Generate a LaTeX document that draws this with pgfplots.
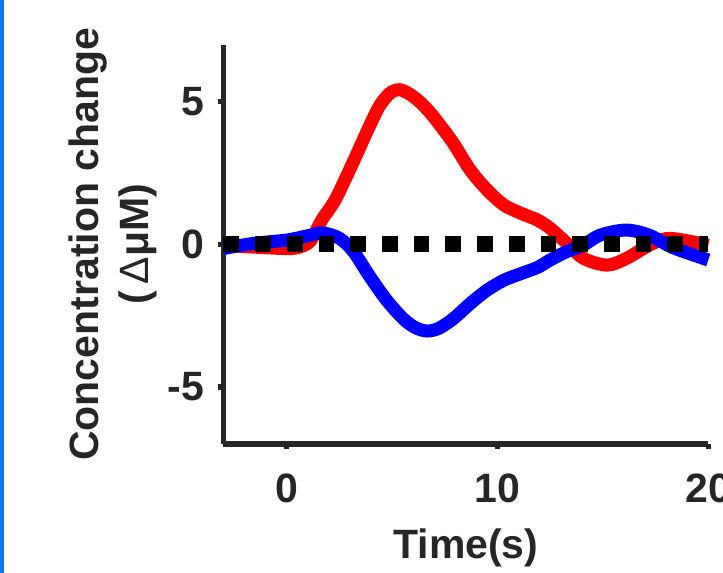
\documentclass[border=0pt]{standalone}
\usepackage{pgfplots}
\pgfplotsset{compat=1.18}
\usepackage{fontspec}
\setmainfont{Liberation Sans}
\definecolor{axgrey}{RGB}{38,38,38}
\definecolor{edgeblue}{RGB}{10,118,248}

% traces (time in s, change in uM)
\pgfplotstableread{
t c
-3 -0.03
-2 -0.08
-1 -0.12
0 -0.15
0.5 -0.12
1.1 0.1
1.66 0.85
2.3 1.56
3.1 2.8
3.9 4.1
4.4 4.85
4.9 5.3
5.35 5.42
5.8 5.28
6.3 5.0
6.8 4.62
7.3 4.15
7.9 3.55
8.7 2.61
9.5 1.91
10.3 1.38
11.1 1.09
11.9 0.85
12.5 0.56
13.3 0.03
14.1 -0.5
15.2 -0.73
16.1 -0.5
17.2 -0.03
18.0 0.2
18.8 0.15
20 -0.03
}\redtrace

\pgfplotstableread{
t c
-3 -0.15
-1.6 0.03
0 0.15
1.0 0.3
1.7 0.4
2.5 0.21
3.16 -0.25
3.95 -1.14
4.74 -1.96
5.53 -2.61
6.1 -2.92
6.64 -3.04
7.2 -2.95
7.9 -2.61
8.7 -2.08
9.5 -1.61
10.3 -1.26
11.1 -1.03
11.9 -0.81
12.5 -0.55
13.3 -0.25
14.07 -0.03
14.86 0.32
16.1 0.5
17.2 0.32
18.3 -0.11
20 -0.55
}\bluetrace

\begin{document}
\begin{tikzpicture}
\begin{axis}[
    scale only axis,
    width=242.4pt, height=199.7pt,
    xmin=-3, xmax=20, ymin=-7, ymax=7,
    xtick={0,10,20}, ytick={-5,0,5},
    axis x line*=bottom, axis y line*=left,
    axis line style={axgrey, line width=2.7pt, -},
    tick align=outside,
    major tick length=2.6pt,
    tick style={axgrey, line width=2.7pt},
    /pgf/number format/assume math mode=true,
    tick label style={text=axgrey, font=\fontsize{20.5}{24}\selectfont\bfseries},
    xticklabel style={yshift=-9pt},
    yticklabel style={xshift=-3.5pt},
    label style={text=axgrey, font=\fontsize{20.5}{25}\selectfont\bfseries},
    xlabel={Time(s)},
    xlabel style={yshift=-6pt},
    ylabel={Concentration change\\(\,{\mdseries Δ}μM)},
    ylabel style={align=center, at={(axis description cs:-0.228,0.5)}, anchor=center},
    clip=false,
]
\addplot[red, line width=6.5pt, smooth] table[x=t, y=c] {\redtrace};
\addplot[blue, line width=6.5pt, smooth] table[x=t, y=c] {\bluetrace};
\addplot[black, line width=7.85pt, dash pattern=on 7.85pt off 8pt] coordinates {(-3,0) (20,0)};
\end{axis}
\fill[edgeblue] ([xshift=-111.75pt,yshift=-64.5pt]current axis.south west) rectangle ([xshift=-109.75pt,yshift=222pt]current axis.south west);
\pgfresetboundingbox
\path ([xshift=-111.75pt,yshift=-64.5pt]current axis.south west) rectangle ([xshift=249.75pt,yshift=222pt]current axis.south west);
\end{tikzpicture}
\end{document}
